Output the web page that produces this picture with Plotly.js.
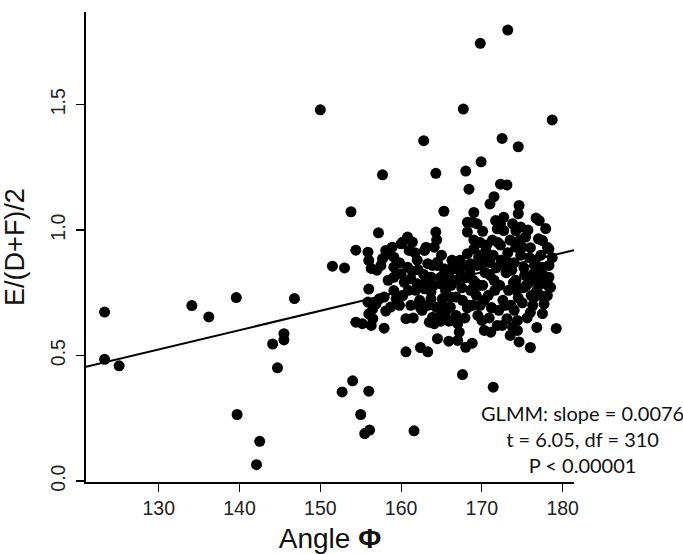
<!DOCTYPE html>
<html>
<head>
<meta charset="utf-8">
<script src="https://cdn.plot.ly/plotly-3.0.1.min.js"></script>
<style>html,body{margin:0;padding:0;background:#fff;}#chart{width:683px;height:554px;}</style>
</head>
<body>
<div id="chart"></div>
<script>
// Angle Φ (x) and E/(D+F)/2 (y)
const angle = [
123.3,123.3,125.1,134.1,136.2,139.6,139.7,142.5,142.1,144.1,145.5,145.5,144.7,146.8,150.0,151.5,153.0,153.8,152.7,154.0,
156.0,155.0,155.5,156.1,161.6,157.2,157.7,162.8,164.3,165.3,167.7,169.8,173.2,178.7,172.5,174.5,169.9,168.0,168.4,172.3,
173.1,167.6,171.4,160.6,162.4,163.3,176.0,179.2,157.9,171.5,171.0,174.6,174.5,169.0,168.2,168.8,176.7,177.1,177.9,154.4,
155.9,156.0,156.3,164.5,165.9,167.0,168.0,168.8,170.3,171.1,173.5,174.6,176.8,172.5,173.8,173.1,174.4,176.0,177.5,177.7,
178.1,178.3,176.8,176.6,176.4,177.5,178.3,178.7,178.1,177.5,177.0,178.3,177.3,178.5,154.4,155.2,156.3,156.5,156.0,156.5,
155.9,156.9,156.0,157.3,158.1,157.9,158.7,159.6,160.2,161.2,160.6,159.1,159.4,159.8,163.5,163.9,164.9,165.9,164.1,163.3,
164.3,163.7,163.7,162.9,162.0,164.9,165.5,165.1,166.1,166.8,166.1,165.5,164.9,166.8,166.1,167.0,167.2,158.1,158.9,160.2,
160.8,161.4,161.0,159.1,159.1,159.1,157.7,157.5,163.3,163.9,164.5,160.8,161.4,162.1,162.8,161.2,160.0,160.4,163.7,164.9,
165.9,166.5,167.2,165.3,164.3,164.4,164.1,163.1,164.5,166.4,168.2,169.0,169.6,170.5,170.7,169.4,168.6,167.8,168.2,170.1,
171.7,172.3,171.9,172.7,173.8,174.2,174.8,175.4,175.0,174.2,178.3,169.4,172.7,162.9,166.2,166.8,167.5,167.9,167.6,168.2,
167.9,168.6,168.9,169.3,169.8,169.5,170.1,170.4,170.0,170.8,171.2,170.9,171.5,171.8,171.4,172.0,171.3,172.4,172.2,172.6,
172.1,173.0,173.3,173.6,173.2,173.5,174.0,174.2,174.5,174.0,174.8,175.2,175.5,175.0,175.6,175.9,176.1,176.3,176.0,175.7,
176.5,177.0,177.2,177.3,169.0,169.8,168.5,167.3,161.8,162.3,162.6,161.5,163.0,164.0,165.2,165.7,162.0,161.7,158.5,160.0,
170.6,171.0,172.8,173.9,175.3,176.6,169.2,170.3,171.6,172.9,174.3,175.8,168.9,170.0,171.2,172.5,173.7,175.1,176.4,177.6,
169.6,171.0,172.3,173.4,174.7,176.0,168.4,169.7,171.9,174.4,166.3,165.0,163.2,162.4,160.9,159.8,158.4,157.0
];
const ratio = [
0.673,0.485,0.459,0.699,0.654,0.731,0.265,0.158,0.065,0.546,0.587,0.562,0.451,0.727,1.479,0.856,0.849,1.073,0.355,0.399,
0.358,0.265,0.189,0.203,0.200,0.989,1.220,1.356,1.226,1.075,1.482,1.744,1.797,1.439,1.365,1.332,1.272,1.235,1.163,1.183,
1.180,0.424,0.374,0.515,0.532,0.515,0.532,0.608,0.609,1.133,1.104,1.098,1.065,1.070,1.031,1.031,1.048,1.038,1.006,0.920,
0.912,0.879,0.847,0.567,0.557,0.560,0.533,0.549,0.600,0.593,0.580,0.554,0.612,0.620,0.613,0.647,0.640,0.672,0.667,0.706,
0.739,0.775,0.759,0.799,0.826,0.852,0.859,0.890,0.932,0.958,0.965,0.812,0.786,0.772,0.633,0.627,0.620,0.647,0.666,0.686,
0.713,0.706,0.765,0.726,0.677,0.733,0.693,0.713,0.739,0.700,0.647,0.759,0.726,0.700,0.633,0.653,0.637,0.637,0.627,0.700,
0.693,0.726,0.753,0.766,0.786,0.786,0.759,0.726,0.733,0.733,0.693,0.673,0.660,0.660,0.640,0.627,0.593,0.919,0.932,0.952,
0.972,0.952,0.919,0.892,0.852,0.812,0.886,0.859,0.866,0.859,0.859,0.852,0.836,0.842,0.823,0.806,0.826,0.792,0.812,0.812,
0.819,0.846,0.839,0.846,0.992,0.961,0.932,0.932,0.872,0.859,0.906,0.925,0.892,0.919,0.879,0.859,0.866,0.859,0.992,0.995,
1.038,1.025,1.005,0.998,1.025,0.998,1.012,0.972,0.932,0.932,0.925,1.025,1.051,0.919,0.780,0.800,0.770,0.810,0.720,0.690,
0.650,0.760,0.800,0.740,0.700,0.660,0.780,0.830,0.860,0.740,0.690,0.650,0.800,0.850,0.900,0.950,0.960,0.880,0.780,0.720,
0.680,0.830,0.760,0.700,0.910,0.960,0.870,0.800,0.730,0.680,0.900,0.850,0.780,0.710,0.650,0.890,0.740,0.700,0.930,1.000,
0.860,0.830,0.740,0.900,0.960,0.950,0.830,0.880,0.760,0.720,0.680,0.650,0.790,0.780,0.700,0.800,0.880,0.910,0.905,0.945,
0.940,0.820,0.860,0.790,0.820,0.880,0.790,0.720,0.760,0.700,0.760,0.790,0.700,0.640,0.690,0.880,0.840,0.770,0.730,0.820,
0.780,0.870,0.940,0.870,0.960,0.800,0.700,0.900,0.620,0.600,0.880,0.900,0.780,0.690,0.760,0.870,0.800,0.840
];
// regression line from the GLMM fit, as drawn
const lineSlope = 0.0077;
const lineIntercept = -0.4767;
const xRange = [121.0, 181.4];
const yRange = [-0.004, 1.869];
const xTicks = [130, 140, 150, 160, 170, 180];
const yTicks = [0, 0.5, 1.0, 1.5];
const yTickText = ['0.0', '0.5', '1.0', '1.5'];
const statsText = ['GLMM: slope = 0.0076', 't = 6.05, df = 310', 'P < 0.00001'];

const lineX = xRange.slice();
const lineY = lineX.map(v => lineIntercept + lineSlope * v);

const traces = [
  {
    type: 'scatter', mode: 'markers', x: angle, y: ratio,
    marker: {color: '#000', size: 11, line: {width: 0}},
    hoverinfo: 'x+y', showlegend: false, cliponaxis: false
  },
  {
    type: 'scatter', mode: 'lines', x: lineX, y: lineY,
    line: {color: '#000', width: 2}, showlegend: false, hoverinfo: 'skip'
  }
];

const fam = '"Liberation Sans", Arial, Helvetica, sans-serif';
const layout = {
  width: 683, height: 554,
  margin: {l: 86, r: 109, t: 12, b: 72, pad: 0},
  paper_bgcolor: '#fff', plot_bgcolor: '#fff',
  showlegend: false,
  font: {family: fam, color: '#222'},
  xaxis: {
    range: xRange, tickmode: 'array', tickvals: xTicks,
    ticks: 'outside', ticklen: 8, tickwidth: 1.2, tickcolor: '#000',
    showline: true, linecolor: '#000', linewidth: 1.6, mirror: false,
    showgrid: false, zeroline: false, automargin: false,
    tickfont: {family: fam, size: 19.5, color: '#222'},
    title: {text: 'Angle <b>Φ</b>', font: {family: fam, size: 28, color: '#111'}, standoff: 11}
  },
  yaxis: {
    range: yRange, tickmode: 'array', tickvals: yTicks, ticktext: yTickText,
    tickangle: -90, ticklabelstandoff: 4,
    ticks: 'outside', ticklen: 8, tickwidth: 1.2, tickcolor: '#000',
    showline: true, linecolor: '#000', linewidth: 1.6, mirror: false,
    showgrid: false, zeroline: false, automargin: false,
    tickfont: {family: fam, size: 19.5, color: '#222'},
    title: {text: 'E/(D+F)/2', font: {family: fam, size: 27, color: '#111'}, standoff: 14}
  },
  annotations: [{
    xref: 'paper', yref: 'paper', x: 1.0184, y: 0.091,
    xanchor: 'center', yanchor: 'middle', align: 'center', showarrow: false,
    text: statsText.join('<br>'),
    font: {family: 'Lato, "Open Sans", sans-serif', size: 20, color: '#111'}
  }]
};

Plotly.newPlot('chart', traces, layout, {displayModeBar: false, staticPlot: true});
</script>
</body>
</html>
